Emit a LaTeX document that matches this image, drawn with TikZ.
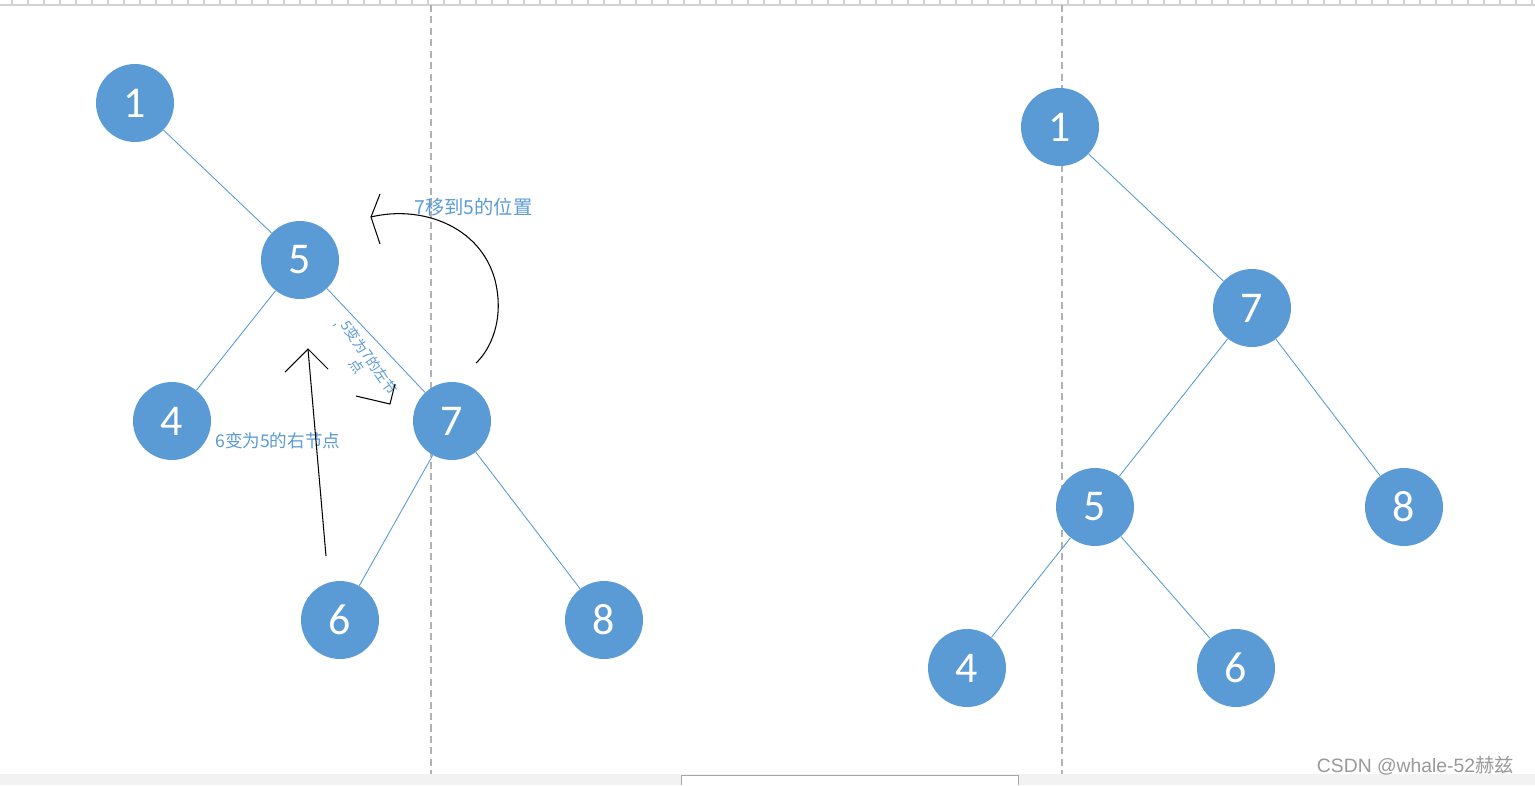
\documentclass[tikz,border=0pt]{standalone}
\usepackage{fontspec}
\setmainfont{Carlito}
\newfontfamily\cjk{Noto Sans CJK SC}
\begin{document}
\begin{tikzpicture}[x=0.02cm,y=-0.02cm,
  tn/.style={circle,fill=nodeblue,minimum size=1.56cm,inner sep=0,text=white,font=\fontsize{25}{28}\selectfont},
  edge/.style={draw=nodeblue,line width=0.5pt},
  lbl/.style={text=nodeblue,font=\cjk\fontsize{11}{13}\selectfont,inner sep=0},
  guide/.style={draw=gray!60,dash pattern=on 4pt off 2.5pt,line width=0.6pt},
  ink/.style={draw=black,line width=0.6pt}]
\definecolor{nodeblue}{HTML}{5B9BD5}
\useasboundingbox (0,0) rectangle (1535,785);
\fill[white] (0,0) rectangle (1535,785);
% ruler
\draw[gray!35,line width=0.6pt] (0,5) -- (1535,5);
\foreach \i in {0,...,95} {\draw[gray!35,line width=0.6pt] (12+16*\i,0) -- (12+16*\i,5);}
% bottom bar
\fill[black!5] (0,774) rectangle (1535,785);
\draw[gray!70,fill=white] (681,785) -- (681,775) -- (1018,775) -- (1018,785);
\draw[guide] (431,5) -- (431,774);
\draw[guide] (1062,5) -- (1062,774);
% left tree
\node[tn] (a1) at (135,103) {1};
\node[tn] (a5) at (300,260) {5};
\node[tn] (a4) at (172,421) {4};
\node[tn] (a7) at (452,421) {7};
\node[tn] (a6) at (340,620) {6};
\node[tn] (a8) at (604,620) {8};
\draw[edge] (a1) -- (a5);
\draw[edge] (a5) -- (a4);
\draw[edge] (a5) -- (a7);
\draw[edge] (a7) -- (a6);
\draw[edge] (a7) -- (a8);
% right tree
\node[tn] (b1) at (1060,127) {1};
\node[tn] (b7) at (1252,308) {7};
\node[tn] (b5) at (1095,507) {5};
\node[tn] (b8) at (1404,507) {8};
\node[tn] (b4) at (967,668) {4};
\node[tn] (b6) at (1236,668) {6};
\draw[edge] (b1) -- (b7);
\draw[edge] (b7) -- (b5);
\draw[edge] (b7) -- (b8);
\draw[edge] (b5) -- (b4);
\draw[edge] (b5) -- (b6);
% labels
\node[lbl,anchor=west] (t1) at (414,207) {7移到5的位置};
\node[lbl,anchor=west,font=\cjk\fontsize{10}{12}\selectfont] (t2) at (215,441) {6变为5的右节点};
\node[lbl,rotate=-55,align=center,font=\cjk\fontsize{8}{9}\selectfont] (t3) at (363,362) {5变为7的左节\\点};
\draw[nodeblue,line width=0.5pt] (333,326) -- (336,324);
% arrows
\coordinate (p1) at (326,556); \coordinate (h1) at (308,349);
\draw[ink] (p1) -- (h1);
\draw[ink] (285,372) -- (h1) -- (328,369);
\coordinate (p2) at (476,363); \coordinate (h2) at (371,217);
\draw[ink] (p2) .. controls (490,350) and (505,320) .. (495,280) .. controls (480,225) and (420,205) .. (h2);
\draw[ink] (380,194) -- (h2) -- (380,244);
\coordinate (h3) at (390,404);
\draw[ink] (356,396) -- (h3) -- (395,384);
% watermark
\node[text=gray!80,font=\fontspec{Liberation Sans}\fontsize{11}{13}\selectfont,anchor=east] (wm) at (1520,766) {CSDN @whale-52{\cjk 赫兹}};
\end{tikzpicture}
\end{document}
